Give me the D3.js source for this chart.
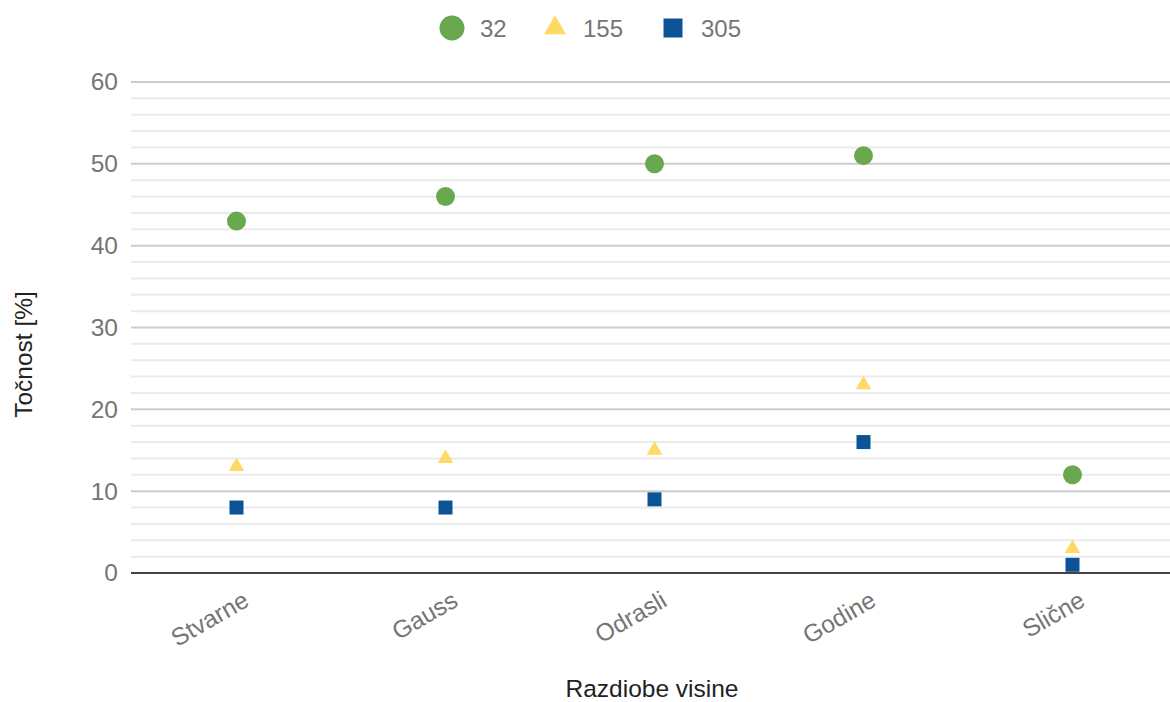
<!DOCTYPE html>
<html>
<head>
<meta charset="utf-8">
<script src="https://cdn.jsdelivr.net/npm/d3@7"></script>
<style>
  body { margin: 0; background: #fff; }
  svg { display: block; font-family: Arial, "Liberation Sans", sans-serif; }
</style>
</head>
<body>
<svg width="1170" height="702"></svg>
<script>
// data
const categories = ['Stvarne', 'Gauss', 'Odrasli', 'Godine', 'Slične'];
const seriesNames = ['32', '155', '305'];
const values32 = [43, 46, 50, 51, 12];
const values155 = [13, 14, 15, 23, 3];
const values305 = [8, 8, 9, 16, 1];
const yTicks = [0, 10, 20, 30, 40, 50, 60];

const colors = ['#6aa84f', '#ffd966', '#0b5394'];
const shapes = ['circle', 'triangle', 'square'];

const width = 1170, height = 702;
const margin = { left: 131, right: 0, top: 82, bottom: 129 };
const fontSize = '24.5px';

const svg = d3.select('svg');

const x = d3.scaleBand()
    .domain(categories)
    .range([margin.left, margin.left + 5 * 209]);

const y = d3.scaleLinear()
    .domain([0, 60])
    .range([height - margin.bottom, margin.top]);

// gridlines (minor every 2, major every 10)
const grid = svg.append('g');
grid.selectAll('line')
    .data(d3.range(0, 61, 2).filter(v => v > 0))
    .enter()
    .append('line')
    .attr('x1', margin.left)
    .attr('x2', width)
    .attr('y1', d => y(d))
    .attr('y2', d => y(d))
    .style('stroke', d => d % 10 === 0 ? '#cccccc' : '#ebebeb')
    .style('stroke-width', 2);

// baseline
svg.append('line')
    .attr('x1', margin.left)
    .attr('x2', width)
    .attr('y1', y(0))
    .attr('y2', y(0))
    .style('stroke', '#444')
    .style('stroke-width', 2);

// y tick labels
const yAxis = d3.axisLeft(y).tickValues(yTicks).tickSize(0).tickPadding(13);
const yG = svg.append('g')
    .attr('transform', `translate(${margin.left},0)`)
    .call(yAxis);
yG.select('.domain').remove();
yG.selectAll('text')
    .style('font-size', fontSize)
    .style('font-family', 'Arial, "Liberation Sans", sans-serif')
    .style('fill', '#757575');

// x tick labels, slanted
const xAxis = d3.axisBottom(x).tickSize(0).tickPadding(0);
const xG = svg.append('g')
    .attr('transform', `translate(0,${y(0)})`)
    .call(xAxis);
xG.select('.domain').remove();
xG.selectAll('text')
    .attr('y', 0)
    .attr('dy', 0)
    .style('text-anchor', 'end')
    .attr('transform', 'translate(15,32) rotate(-30)')
    .style('font-size', fontSize)
    .style('font-family', 'Arial, "Liberation Sans", sans-serif')
    .style('fill', '#757575');

// axis titles
svg.append('text')
    .attr('x', 652)
    .attr('y', 697)
    .style('text-anchor', 'middle')
    .style('font-size', fontSize)
    .style('fill', '#222')
    .text('Razdiobe visine');

svg.append('text')
    .attr('transform', `translate(32,${(y(0) + y(60)) / 2 + 27}) rotate(-90)`)
    .style('text-anchor', 'middle')
    .style('font-size', fontSize)
    .style('fill', '#222')
    .text('Točnost [%]');

// marker paths
function markerPath(shape, s) {
    if (shape === 'circle') {
        return d3.symbol().type(d3.symbolCircle).size(Math.PI * s * s)();
    }
    if (shape === 'square') {
        return `M${-s},${-s}H${s}V${s}H${-s}Z`;
    }
    // triangle with centroid at origin
    const h = s * 1.732;
    return `M0,${-h * 2 / 3}L${s},${h / 3}L${-s},${h / 3}Z`;
}

const series = [values32, values155, values305];
const markerSize = [9.5, 7.8, 7];

series.forEach(function (vals, si) {
    svg.append('g')
        .selectAll('path')
        .data(vals)
        .enter()
        .append('path')
        .attr('d', markerPath(shapes[si], markerSize[si]))
        .attr('transform', (d, i) => `translate(${x(categories[i]) + x.bandwidth() / 2 + 1},${y(d)})`)
        .style('fill', colors[si]);
});

// legend
const legendX = [452, 555, 673];
const legendSize = [12.5, 11, 9.5];
const legend = svg.append('g');
seriesNames.forEach(function (name, i) {
    legend.append('path')
        .attr('d', markerPath(shapes[i], legendSize[i]))
        .attr('transform', `translate(${legendX[i]},28)`)
        .style('fill', colors[i]);
    legend.append('text')
        .attr('x', legendX[i] + 28)
        .attr('y', 28)
        .attr('dy', '0.36em')
        .style('font-size', '24px')
        .style('fill', '#757575')
        .text(name);
});
</script>
</body>
</html>
